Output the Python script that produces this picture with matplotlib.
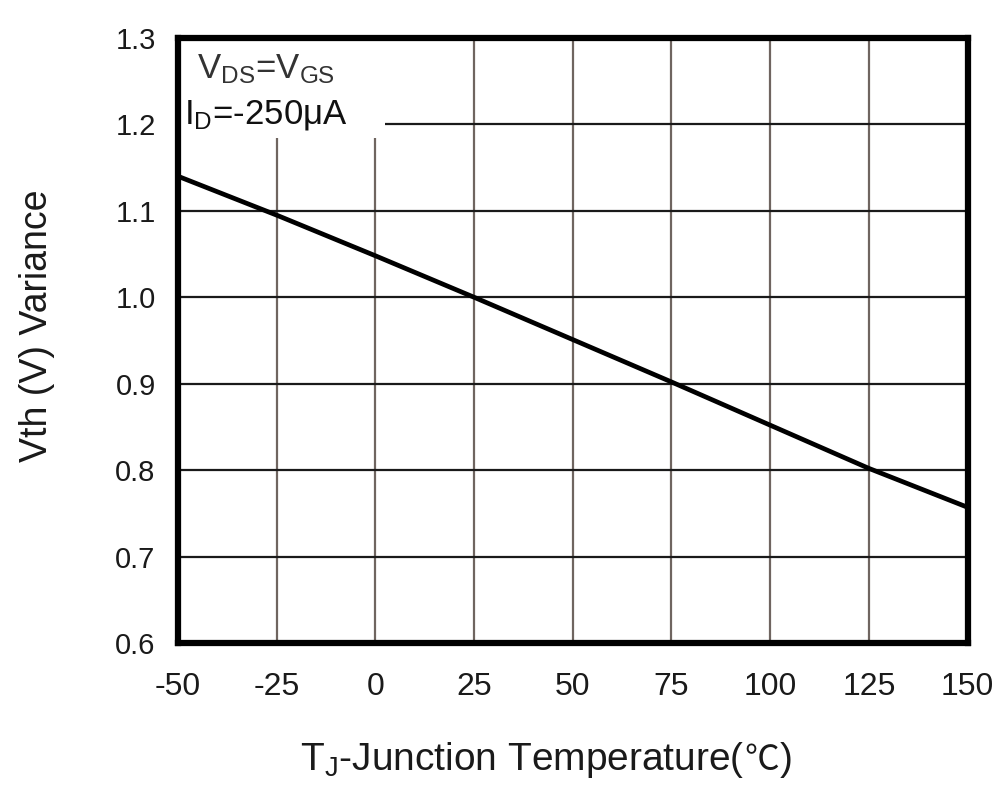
import matplotlib
matplotlib.use("Agg")
import matplotlib.pyplot as plt
from matplotlib.patches import Rectangle
from matplotlib.offsetbox import TextArea, HPacker, AnchoredOffsetbox

# Vth variance vs junction temperature
temp = [-50, -25, 0, 25, 50, 75, 100, 125, 150]
vth = [1.14, 1.095, 1.048, 1.0, 0.951, 0.902, 0.852, 0.802, 0.757]

xticks = [-50, -25, 0, 25, 50, 75, 100, 125, 150]
yticks = [0.6, 0.7, 0.8, 0.9, 1.0, 1.1, 1.2, 1.3]

plt.rcParams['font.family'] = ['Liberation Sans', 'DejaVu Sans']
plt.rcParams['mathtext.fontset'] = 'custom'
plt.rcParams['mathtext.rm'] = 'Liberation Sans'

fig = plt.figure(figsize=(10.02, 7.86), dpi=100)
ax = fig.add_axes([0.1776, 0.182, 0.788, 0.7697])

ax.set_xlim(-50, 150)
ax.set_ylim(0.6, 1.3)
ax.set_xticks(xticks)
ax.set_yticks(yticks)
ax.set_xticklabels([str(t) for t in xticks])
ax.set_yticklabels(["%.1f" % t for t in yticks])
ax.tick_params(length=0, colors='#1a1a1a')
ax.tick_params(axis='x', labelsize=23, pad=21)
ax.tick_params(axis='y', labelsize=21, pad=16)

for s in ax.spines.values():
    s.set_linewidth(4.5)
    s.set_color('black')

ax.grid(True, axis='x', color='#6f6560', linewidth=1.6)
ax.grid(True, axis='y', color='#1a1a1a', linewidth=1.6)
ax.set_axisbelow(True)

# white box behind the test conditions
ax.add_patch(Rectangle((0, 0.835), 0.262, 0.165, transform=ax.transAxes,
                       facecolor='white', edgecolor='none', zorder=2))

ax.plot(temp, vth, color='black', linewidth=3.4, zorder=3)

ax.text(0.024, 0.948, r'$\mathrm{V_{DS}}$=$\mathrm{V_{GS}}$', transform=ax.transAxes,
        fontsize=25, va='center', ha='left', color='#333333', zorder=4)
ax.text(0.008, 0.872, r'$\mathrm{I_D}$=-250μA', transform=ax.transAxes,
        fontsize=25, va='center', ha='left', color='#111111', zorder=4)

# x label, the degree-Celsius sign from a font that has it
lab_props = dict(fontsize=28, color='#1a1a1a')
parts = [TextArea('T$_\\mathrm{J}$-Junction Temperature(', textprops=lab_props),
         TextArea('℃', textprops=dict(fontsize=25, color='#1a1a1a',
                                      family='Noto Sans CJK SC')),
         TextArea(')', textprops=lab_props)]
box = HPacker(children=parts, align='baseline', pad=0, sep=0)
anch = AnchoredOffsetbox(loc='center', child=box, frameon=False,
                         bbox_to_anchor=(0.545, 0.033), bbox_transform=fig.transFigure,
                         borderpad=0, pad=0)
fig.add_artist(anch)

fig.text(0.037, 0.586, 'Vth (V) Variance', rotation=90, fontsize=27,
         ha='center', va='center', color='#1a1a1a')

fig.savefig('out.png', dpi=100, facecolor='white')
